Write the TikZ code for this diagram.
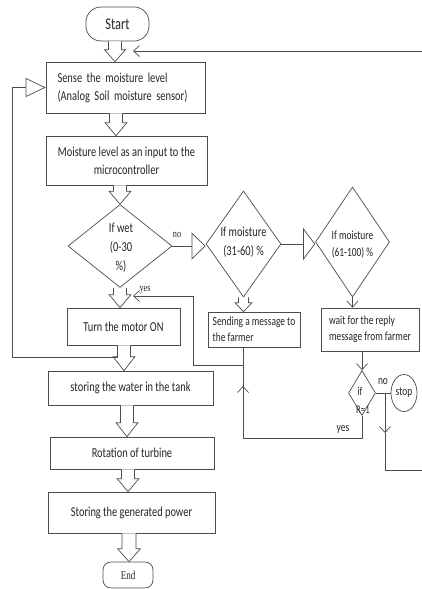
\documentclass[tikz,border=0pt]{standalone}
\usepackage{fontspec}
\setmainfont{Carlito}[FakeStretch=0.76]
\newfontfamily\sercond{Liberation Serif}[FakeStretch=0.75]
\usetikzlibrary{arrows.meta,shapes.geometric,calc}
\tikzset{
  ln/.style={draw=black!70, line width=0.7pt},
  mainfont/.style={font=\fontsize{13.7}{18}\selectfont},
  smallfont/.style={font=\fontsize{12.4}{16}\selectfont},
  box/.style={ln, rectangle, inner sep=0pt, align=center, text=black!85, mainfont},
  term/.style={box, rounded corners=15pt},
  dia/.style={ln, diamond, inner sep=0pt},
  txt/.style={inner sep=0pt, align=center, text=black!85, font=\fontsize{13.7}{19}\selectfont},
  lbl/.style={inner sep=0pt, text=black!85, smallfont},
  slbl/.style={inner sep=0pt, text=black!85, font=\sercond\fontsize{11}{12}\selectfont},
  vtip/.style={-{Straight Barb[length=6pt,width=11pt]}},
  blk/.style={ln, fill=white, line join=miter}
}
% hollow block arrow: x, from, to, shaft half width, head half width, head length
\newcommand\blkarrow[6]{%
  \draw[blk] let \p1=(#2), \p2=(#3) in
    (#1pt-#4pt,\y1) -- (#1pt-#4pt,\y2+#6pt) -- (#1pt-#5pt,\y2+#6pt) -- (#1pt,\y2)
    -- (#1pt+#5pt,\y2+#6pt) -- (#1pt+#4pt,\y2+#6pt) -- (#1pt+#4pt,\y1);
}
\begin{document}
\begin{tikzpicture}[x=1pt,y=-1pt]
\useasboundingbox (0,0) rectangle (422,589);
\fill[white] (0,0) rectangle (422,589);

% main column
\node[term, minimum width=63pt, minimum height=34pt, font=\fontsize{16.4}{18}\selectfont] (start) at (117.5,24) {Start};
\node[box, align=left, text width=140pt, inner xsep=9.5pt, minimum height=51pt] (sense) at (125.5,87.5)
  {\hspace*{2pt}Sense the moisture level\\\hspace*{2pt}(Analog Soil moisture sensor)};
\node[box, minimum width=161pt, minimum height=49pt] (moist) at (126.5,160.5)
  {Moisture level as an input to the\\microcontroller};
\node[dia, minimum width=104pt, minimum height=83pt] (d1) at (120,246) {};
\node[txt] (d1t) at (121,248) {If wet\\(0-30\\\%)};
\node[box, minimum width=113pt, minimum height=37pt] (motor) at (123.5,326.5) {Turn the motor ON};
\node[box, minimum width=165pt, minimum height=34pt] (water) at (130.5,388) {storing the water in the tank};
\node[box, minimum width=164pt, minimum height=32pt] (rot) at (132,453) {Rotation of turbine};
\node[box, minimum width=167pt, minimum height=41pt] (power) at (131.5,512.5) {Storing the generated power};
\node[box, rounded corners=8pt, minimum width=50pt, minimum height=26pt, font=\sercond\fontsize{12}{13}\selectfont] (end) at (128,575) {End};

% block arrows
\blkarrow{115}{start.south}{sense.north}{6.5}{10.5}{12}
\blkarrow{116}{sense.south}{moist.north}{6.5}{11}{13}
\blkarrow{120}{moist.south}{d1.north}{6.5}{11}{13}
\blkarrow{120}{d1.south}{motor.north}{6.5}{11}{13}
\blkarrow{124}{motor.south}{water.north}{6.5}{11}{14}
\blkarrow{127}{water.south}{rot.north}{6.5}{11}{14}
\blkarrow{128}{rot.south}{power.north}{6.5}{11}{13}
\blkarrow{129}{power.south}{end.north}{7}{11.5}{13}

% right diamonds
\node[dia, minimum width=75pt, minimum height=106pt] (d2) at (243.5,244) {};
\node[txt] (d2t) at (243.5,242) {If moisture\\(31-60) \%};
\node[dia, minimum width=74pt, minimum height=110pt] (d3) at (352.5,242) {};
\node[txt, font=\fontsize{12.4}{17}\selectfont] (d3t) at (352.5,245) {If moisture\\(61-100) \%};

\draw[ln, -{Triangle[open,length=14pt,width=27pt]}] (d1.east) -- (d1.east -| d2.west);
\node[slbl] (no1) at (177,235) {no};
\draw[ln, -{Triangle[open,length=12pt,width=32pt]}] (d2.east) -- (d2.east -| d3.west);

\node[box, smallfont, align=left, minimum width=92pt, inner xsep=3pt, minimum height=35pt] (send) at (254,329.5)
  {Sending a message to\\the farmer\hspace*{40pt}};
\node[box, smallfont, align=left, minimum width=98pt, inner xsep=4pt, minimum height=43pt] (wait) at (370,329.5)
  {wait for the reply\hspace*{14pt}\\message from farmer};

\blkarrow{243.5}{d2.south}{send.north}{5}{8.5}{9}
\draw[ln, vtip] (d3.south) -- (d3.south |- wait.north);

% R=1 decision and stop
\node[dia, minimum width=27pt, minimum height=45pt] (d4) at (362,393) {};
\node[lbl, font=\fontsize{12}{13}\selectfont] (d4a) at (360,391) {if};
\node[lbl, font=\fontsize{11.5}{12}\selectfont] (d4b) at (363,410) {R=1};
\node[ln, ellipse, inner sep=0pt, minimum width=26pt, minimum height=37pt, text=black!85, smallfont] (stop) at (404,393) {stop};
\draw[ln, vtip] (d4.north |- wait.south) -- (d4.north);
\draw[ln] (d4.east) -- (d4.east -| stop.west);
\node[lbl] (no2) at (383,382) {no};
\node[lbl] (yes2) at (343,429) {yes};

\coordinate (j2) at (385,393);
\coordinate (j2m) at (385,433);
\coordinate (j2b) at (385,470);
\coordinate (j2r) at (422,470);
\draw[ln, vtip] (j2) -- (j2m);
\draw[ln] (j2m) -- (j2b) -- (j2r);

% yes loop back to motor
\coordinate (j1) at (243,365);
\coordinate (c1) at (362,438);
\coordinate (c2) at (243,438);
\coordinate (cup) at (243,386);
\coordinate (ytip) at (133,296);
\draw[ln] (d4.south) -- (c1) -- (c2) -- (j1);
\draw[ln, vtip] (c2) -- (cup);
\draw[ln, vtip] (j1 |- send.south) -- (j1) -- (193,365) -- (193,296) -- (ytip);
\node[slbl] (yes1) at (145,290) {yes};

% top right return
\coordinate (tr) at (422,51);
\coordinate (trtip) at (133,51);
\draw[ln, vtip] (tr) -- (trtip);

% left loop
\coordinate (lp) at (117.5,357);
\draw[ln, -{Triangle[open,length=20pt,width=19pt]}] (lp) -- (12,357) |- (sense.west);
\end{tikzpicture}
\end{document}
